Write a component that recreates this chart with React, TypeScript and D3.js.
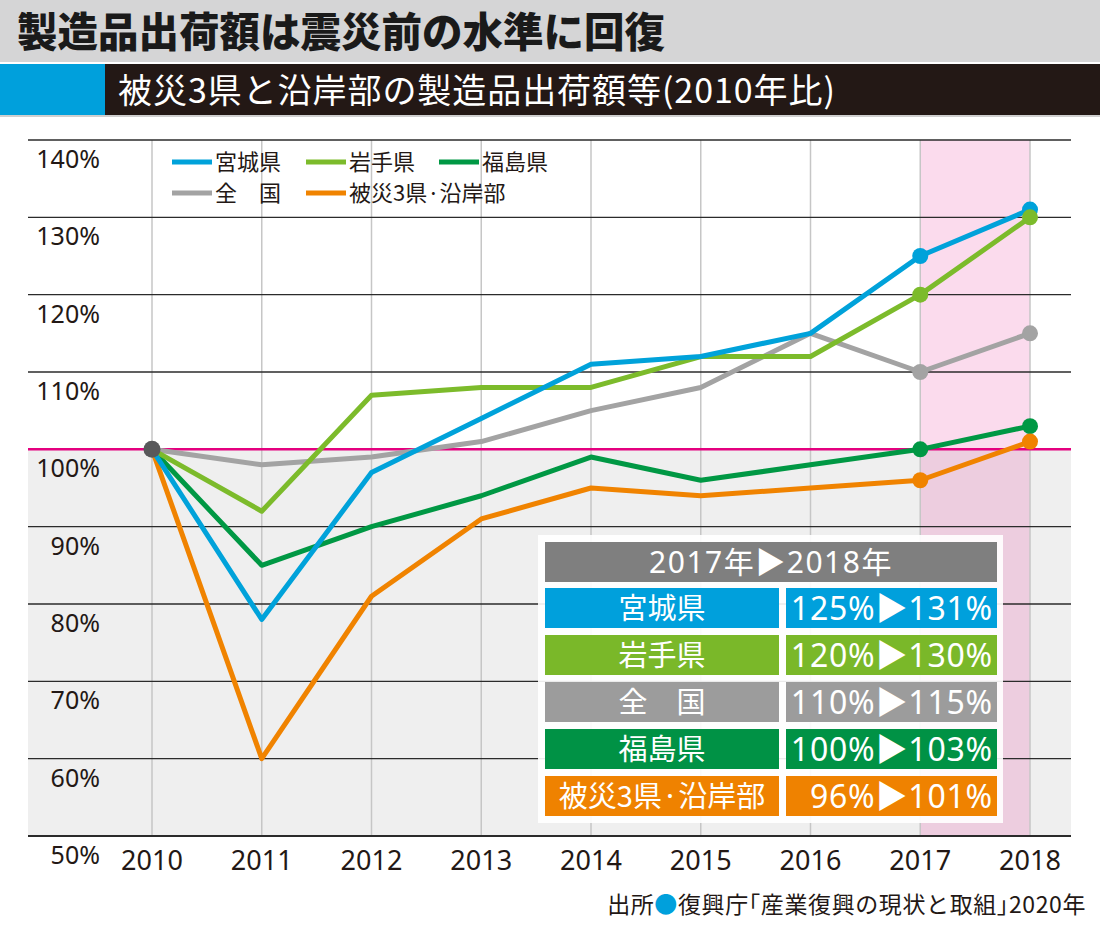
import * as d3 from "d3";

const YEARS = [2010, 2011, 2012, 2013, 2014, 2015, 2016, 2017, 2018];
const MIYAGI = [100, 78, 97, 104, 111, 112, 115, 125, 131];
const IWATE = [100, 92, 107, 108, 108, 112, 112, 120, 130];
const NATIONAL = [100, 98, 99, 101, 105, 108, 115, 110, 115];
const FUKUSHIMA = [100, 85, 90, 94, 99, 96, 98, 100, 103];
const COASTAL = [100, 60, 81, 91, 95, 94, 95, 96, 101];

const Y_TICKS = [50, 60, 70, 80, 90, 100, 110, 120, 130, 140];
const BASE_YEAR = 2010;
const HIGHLIGHT_YEARS = [2017, 2018];

const TITLE = "製造品出荷額は震災前の水準に回復";
const SUBTITLE = "被災3県と沿岸部の製造品出荷額等(2010年比)";
const TABLE_HEADER = "2017年▶2018年";
const SOURCE_PRE = "出所";
const SOURCE_TEXT = "復興庁｢産業復興の現状と取組｣2020年";

type Series = { key: string; label: string; color: string; values: number[] };

const SERIES: Record<string, Series> = {
  miyagi: { key: "miyagi", label: "宮城県", color: "#00a2da", values: MIYAGI },
  iwate: { key: "iwate", label: "岩手県", color: "#7cbb2b", values: IWATE },
  national: { key: "national", label: "全　国", color: "#a3a3a3", values: NATIONAL },
  fukushima: { key: "fukushima", label: "福島県", color: "#009844", values: FUKUSHIMA },
  coastal: { key: "coastal", label: "被災3県·沿岸部", color: "#f08300", values: COASTAL },
};

// draw order: lines, then dots
const LINE_ORDER = ["national", "fukushima", "coastal", "iwate", "miyagi"];
const DOT_ORDER = ["national", "miyagi", "iwate", "fukushima", "coastal"];
const LEGEND_ROWS = [
  ["miyagi", "iwate", "fukushima"],
  ["national", "coastal"],
];
const TABLE_ORDER = ["miyagi", "iwate", "national", "fukushima", "coastal"];
const TABLE_COLORS: Record<string, string> = {
  miyagi: "#00a0dc",
  iwate: "#7ab829",
  national: "#9c9c9c",
  fukushima: "#009245",
  coastal: "#ef8200",
};

const W = 1100;
const H = 932;
const PLOT = { left: 28, right: 1071, top: 140, bottom: 836 };

const LATIN = "'Noto Sans', 'Noto Sans CJK JP', sans-serif";
const CJK = "'Noto Sans CJK JP', 'Noto Sans', sans-serif";

export default function App() {
  const x = d3.scalePoint<number>().domain(YEARS).range([152, 1030]);
  const y = d3.scaleLinear().domain([50, 140]).range([PLOT.bottom, PLOT.top]);

  const line = d3
    .line<number>()
    .x((_, i) => x(YEARS[i])!)
    .y((d) => y(d));

  const i17 = YEARS.indexOf(HIGHLIGHT_YEARS[0]);
  const i18 = YEARS.indexOf(HIGHLIGHT_YEARS[1]);
  const bandX0 = x(HIGHLIGHT_YEARS[0])!;
  const bandX1 = x(HIGHLIGHT_YEARS[1])!;

  // table layout
  const tbl = { x: 545, y: 542, w: 452, headH: 40, rowH: 40, pitch: 47, split: 779, gap: 7 };

  return (
    <svg
      width={W}
      height={H}
      viewBox={`0 0 ${W} ${H}`}
      style={{ position: "absolute", left: 0, top: 0, background: "#fff" }}
    >
      {/* header bars */}
      <rect x={0} y={0} width={W} height={62} fill="#d5d5d6" />
      <text x={17} y={47} fontFamily={CJK} fontWeight={900} fontSize={40.5} fill="#1a1a1a">
        {TITLE}
      </text>
      <rect x={0} y={64} width={105} height={51} fill="#00a0dc" />
      <rect x={105} y={64} width={W - 105} height={51} fill="#231815" />
      <rect x={0} y={115} width={W} height={2} fill="#cfcfcf" />
      <text x={118} y={103} fontFamily={CJK} fontSize={34} fill="#fff" textLength={717}>
        {SUBTITLE}
      </text>

      {/* below 100% shading */}
      <rect
        x={PLOT.left}
        y={y(100)}
        width={PLOT.right - PLOT.left}
        height={PLOT.bottom - y(100)}
        fill="#efefef"
      />
      {/* highlighted years */}
      <rect
        x={bandX0}
        y={PLOT.top}
        width={bandX1 - bandX0}
        height={PLOT.bottom - PLOT.top}
        fill="#e4007f"
        fillOpacity={0.14}
      />

      {/* vertical grid */}
      {YEARS.map((yr) => (
        <line
          key={yr}
          x1={x(yr)}
          x2={x(yr)}
          y1={PLOT.top}
          y2={PLOT.bottom}
          stroke="#c6c6c6"
          strokeWidth={1.5}
        />
      ))}

      {/* horizontal grid + y labels */}
      {Y_TICKS.map((t) =>
        t === 100 ? null : (
          <line
            key={t}
            x1={PLOT.left}
            x2={PLOT.right}
            y1={y(t)}
            y2={y(t)}
            stroke="#2b2b2b"
            strokeWidth={t === 50 ? 2 : 1.4}
          />
        )
      )}
      <line
        x1={PLOT.left}
        x2={PLOT.right}
        y1={y(100)}
        y2={y(100)}
        stroke="#e4007f"
        strokeWidth={2.5}
      />
      {Y_TICKS.map((t) => (
        <text
          key={`l${t}`}
          x={100}
          y={y(t) + 28}
          textAnchor="end"
          fontFamily={LATIN}
          fontSize={25}
          fill="#231815"
        >
          {t}%
        </text>
      ))}

      {/* x labels */}
      {YEARS.map((yr) => (
        <text
          key={`x${yr}`}
          x={x(yr)}
          y={870}
          textAnchor="middle"
          fontFamily={LATIN}
          fontSize={27}
          fill="#231815"
        >
          {yr}
        </text>
      ))}

      {/* legend */}
      {LEGEND_ROWS.map((row, r) =>
        row.map((k, c) => {
          const s = SERIES[k];
          const lx = [172, 306, 439][c];
          const ly = 162 + r * 31;
          return (
            <g key={k}>
              <line x1={lx} x2={lx + 40} y1={ly} y2={ly} stroke={s.color} strokeWidth={5} />
              <text
                x={lx + 43}
                y={ly + 8}
                fontFamily={CJK}
                fontSize={22}
                fill="#231815"
              >
                {s.label}
              </text>
            </g>
          );
        })
      )}

      {/* series lines */}
      {LINE_ORDER.map((k) => (
        <path
          key={k}
          d={line(SERIES[k].values)!}
          fill="none"
          stroke={SERIES[k].color}
          strokeWidth={5}
          strokeLinejoin="round"
        />
      ))}

      {/* 2017 / 2018 markers */}
      {DOT_ORDER.map((k) =>
        [i17, i18].map((i) => (
          <circle
            key={`${k}${i}`}
            cx={x(YEARS[i])}
            cy={y(SERIES[k].values[i])}
            r={8}
            fill={SERIES[k].color}
          />
        ))
      )}
      <circle cx={x(BASE_YEAR)} cy={y(100)} r={8.5} fill="#58585a" />

      {/* comparison table */}
      <rect x={538} y={535} width={465} height={288} fill="#fff" fillOpacity={0.9} />
      <rect x={tbl.x} y={tbl.y} width={tbl.w} height={tbl.headH} fill="#7f7f7f" />
      <text
        x={tbl.x + tbl.w / 2}
        y={tbl.y + 31}
        textAnchor="middle"
        fontFamily={LATIN}
        fontSize={30}
        letterSpacing={1.5}
        fill="#fff"
      >
        {TABLE_HEADER}
      </text>
      {TABLE_ORDER.map((k, r) => {
        const s = SERIES[k];
        const ry = tbl.y + 46 + r * tbl.pitch;
        const fill = TABLE_COLORS[k];
        const label = `${s.values[i17]}%▶${s.values[i18]}%`;
        return (
          <g key={`t${k}`}>
            <rect x={tbl.x} y={ry} width={tbl.split - tbl.x} height={tbl.rowH} fill={fill} />
            <rect
              x={tbl.split + tbl.gap}
              y={ry}
              width={tbl.x + tbl.w - tbl.split - tbl.gap}
              height={tbl.rowH}
              fill={fill}
            />
            <text
              x={(tbl.x + tbl.split) / 2}
              y={ry + 31}
              textAnchor="middle"
              fontFamily={CJK}
              fontSize={29}
              fill="#fff"
            >
              {s.label}
            </text>
            <text
              x={tbl.x + tbl.w - 4}
              y={ry + 32}
              textAnchor="end"
              fontFamily={LATIN}
              fontSize={32}
              letterSpacing={0.8}
              fill="#fff"
            >
              {label}
            </text>
          </g>
        );
      })}

      {/* source */}
      <text
        x={1086}
        y={913}
        textAnchor="end"
        fontFamily={CJK}
        fontSize={23}
        letterSpacing={0.6}
        fill="#231815"
      >
        {SOURCE_PRE}
        <tspan fill="#00a0dc">●</tspan>
        {SOURCE_TEXT}
      </text>
    </svg>
  );
}
